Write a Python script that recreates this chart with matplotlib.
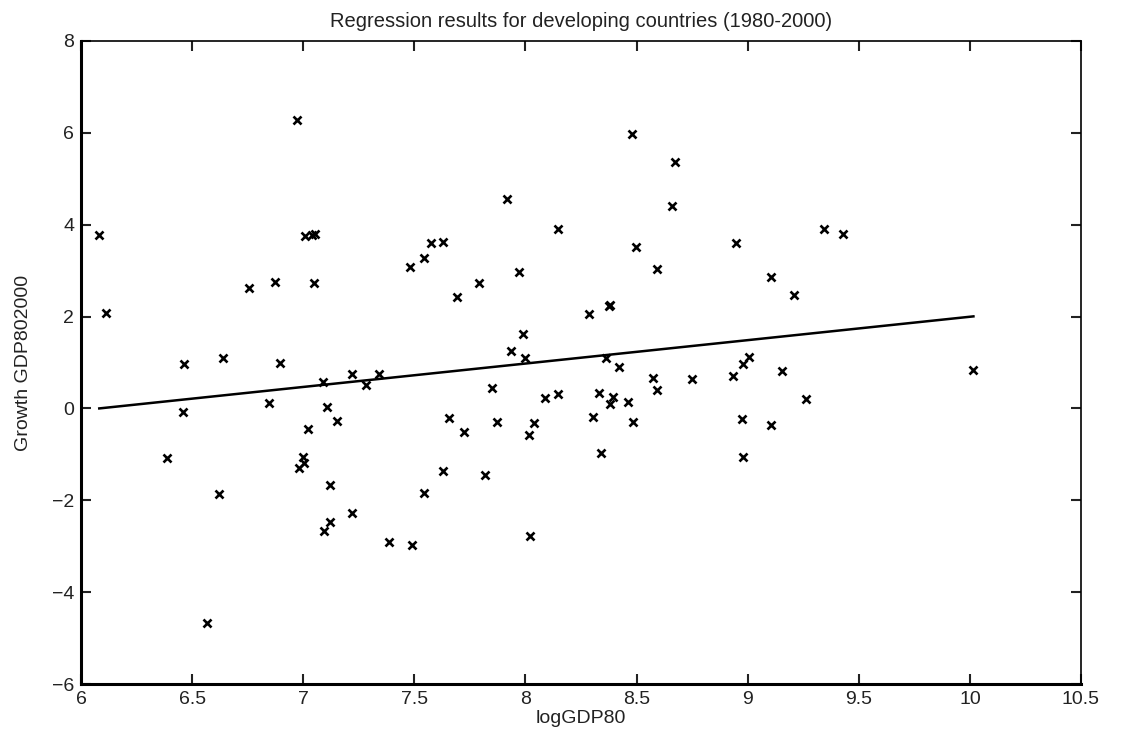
import numpy as np
import matplotlib
matplotlib.use("Agg")
import matplotlib.pyplot as plt

plt.rcParams['font.family'] = ['Liberation Sans', 'DejaVu Sans']

log_gdp80 = [
    6.082, 6.111, 6.386, 6.460, 6.465, 6.566, 6.623, 6.641, 6.756, 6.846,
    6.873, 6.896, 6.973, 6.980, 7.000, 7.005, 7.008, 7.023, 7.040, 7.049,
    7.053, 7.090, 7.094, 7.108, 7.120, 7.120, 7.150, 7.218, 7.218, 7.283,
    7.341, 7.387, 7.480, 7.488, 7.544, 7.545, 7.574, 7.631, 7.631, 7.657,
    7.690, 7.724, 7.790, 7.818, 7.848, 7.871, 7.919, 7.934, 7.973, 7.990,
    7.998, 8.016, 8.021, 8.040, 8.088, 8.148, 8.148, 8.286, 8.303, 8.330,
    8.340, 8.361, 8.376, 8.381, 8.381, 8.396, 8.419, 8.463, 8.481, 8.486,
    8.496, 8.576, 8.594, 8.594, 8.660, 8.673, 8.748, 8.932, 8.949, 8.973,
    8.978, 8.978, 9.008, 9.105, 9.105, 9.153, 9.210, 9.263, 9.344, 9.431,
    10.016,
]
growth_gdp = [
    3.77, 2.08, -1.08, -0.07, 0.96, -4.67, -1.85, 1.09, 2.63, 0.11,
    2.76, 0.98, 6.28, -1.30, -1.06, -1.19, 3.75, -0.45, 3.77, 2.74,
    3.79, 0.57, -2.66, 0.04, -1.66, -2.48, -0.27, -2.27, 0.75, 0.51,
    0.75, -2.91, 3.08, -2.97, 3.27, -1.83, 3.61, 3.63, -1.37, -0.20,
    2.43, -0.52, 2.74, -1.45, 0.45, -0.29, 4.56, 1.25, 2.96, 1.62,
    1.10, -0.58, -2.77, -0.32, 0.22, 3.90, 0.31, 2.05, -0.18, 0.33,
    -0.96, 1.09, 2.22, 2.25, 0.10, 0.26, 0.91, 0.15, 5.96, -0.30,
    3.52, 0.66, 3.03, 0.40, 4.41, 5.36, 0.64, 0.71, 3.59, -0.24,
    -1.05, 0.97, 1.13, -0.37, 2.85, 0.82, 2.47, 0.20, 3.90, 3.79,
    0.84,
]

# regression line (as drawn in the reference)
reg_slope = 0.509
reg_intercept = -3.095

title = "Regression results for developing countries (1980-2000)"
xlabel = "logGDP80"
ylabel = "Growth GDP802000"
xticks = [6, 6.5, 7, 7.5, 8, 8.5, 9, 9.5, 10, 10.5]
xticklabels = ["6", "6.5", "7", "7.5", "8", "8.5", "9", "9.5", "10", "10.5"]
yticks = [-6, -4, -2, 0, 2, 4, 6, 8]

fig = plt.figure(figsize=(11.21, 7.40), dpi=100)
ax = fig.add_axes([0.0723, 0.0753, 0.892, 0.8697])

ax.plot(log_gdp80, growth_gdp, linestyle='none', marker='x', color='black',
        markersize=6, markeredgewidth=1.9)

xs = np.array([min(log_gdp80), max(log_gdp80)])
ax.plot(xs, reg_intercept + reg_slope * xs, color='black', linewidth=1.8)

ax.set_xlim(6, 10.5)
ax.set_ylim(-6, 8)
ax.set_xticks(xticks)
ax.set_xticklabels(xticklabels)
ax.set_yticks(yticks)
ax.tick_params(direction='in', length=7, width=1.5, top=True, right=True,
               labelsize=14, pad=5, colors='#222222')
for side in ['left', 'bottom']:
    ax.spines[side].set_linewidth(2.2)
for side in ['top', 'right']:
    ax.spines[side].set_linewidth(1.2)

ax.set_title(title, fontsize=14.5, pad=10, color='#222222')
ax.set_xlabel(xlabel, fontsize=14, labelpad=1, color='#222222')
ax.set_ylabel(ylabel, fontsize=14, labelpad=14, color='#222222')

fig.savefig("out.png", dpi=100)
